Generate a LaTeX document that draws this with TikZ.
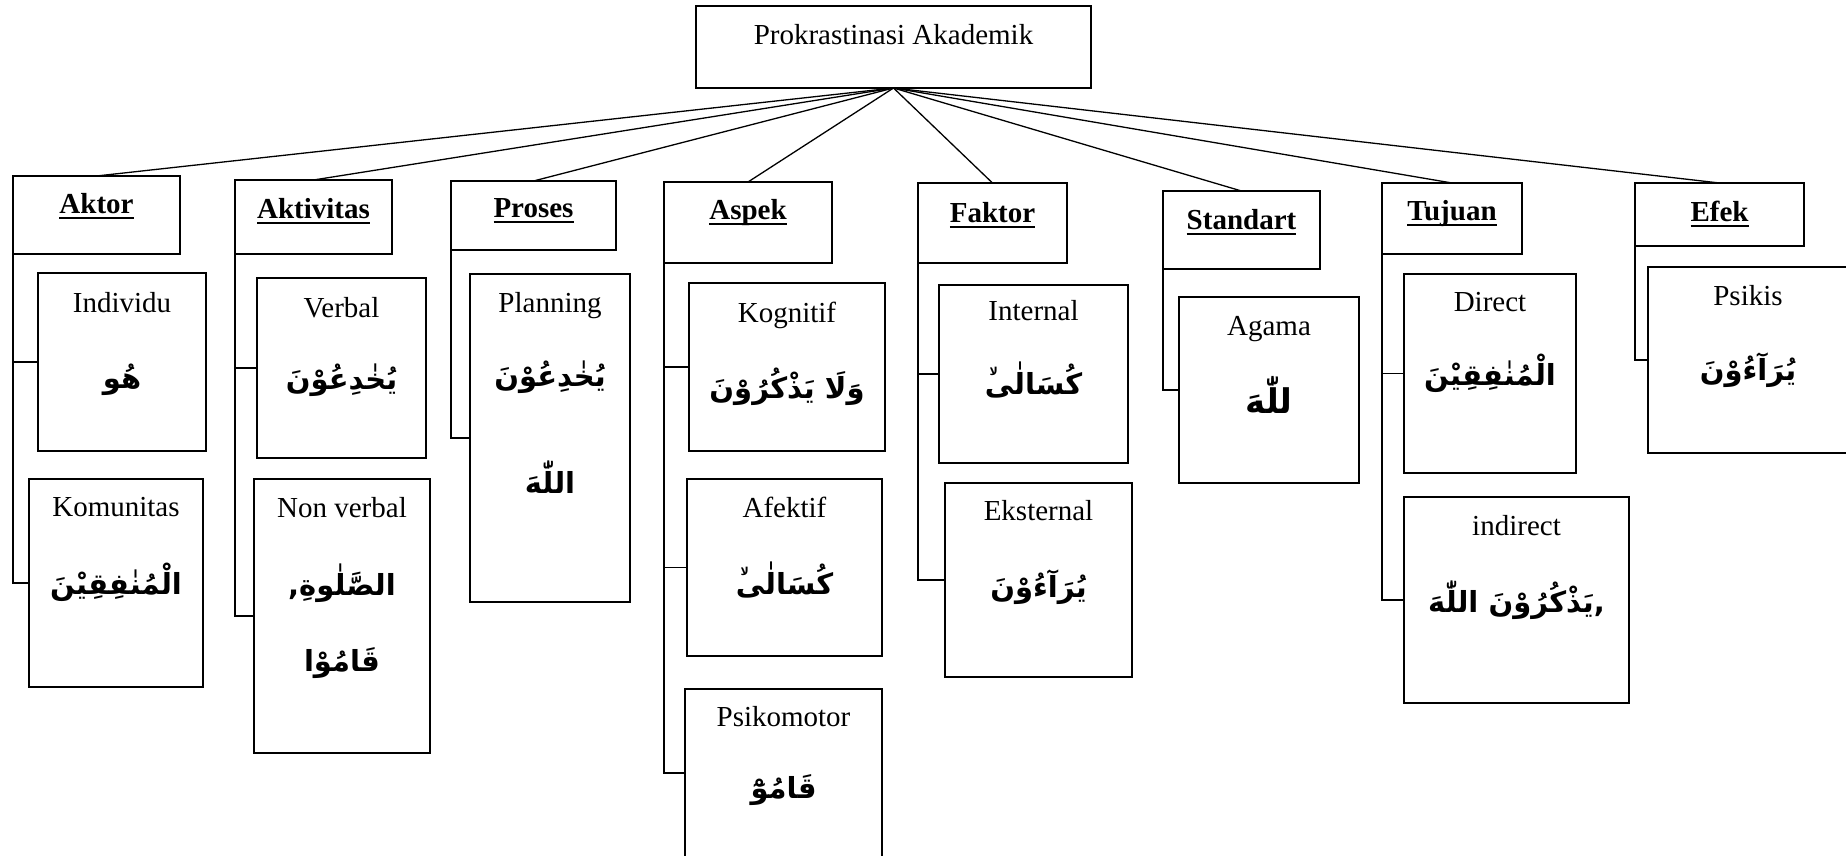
\documentclass[tikz,border=0pt]{standalone}
\usepackage{fontspec}
\setmainfont{Liberation Serif}
\newfontfamily\arabicfont[Script=Arabic]{DejaVu Sans}
\TeXXeTstate=1
\newcommand\hdrul[1]{\setbox0\hbox{#1}\rlap{\rule[-6pt]{\wd0}{2pt}}\box0}
\newcommand\smlamalif{\kern-13pt\raisebox{19pt}{\fontsize{11}{11}\selectfont لا}\kern5pt}
\tikzset{
  box/.style={draw, line width=1.3pt, rectangle, inner sep=0pt, outer sep=0pt},
  lbl/.style={anchor=base, inner sep=0pt, font=\fontsize{29}{34}\selectfont},
  hdr/.style={anchor=base, inner sep=0pt, font=\fontsize{29}{34}\selectfont\bfseries},
  ar/.style={inner sep=0pt, font=\arabicfont\bfseries\fontsize{29}{34}\selectfont},
  conn/.style={line width=1.3pt}
}
\begin{document}
\begin{tikzpicture}[x=1pt,y=-1pt]
\useasboundingbox (0,0) rectangle (1846,856);
\fill[white] (0,0) rectangle (1846,856);
\clip (0,0) rectangle (1846,856);
% root
\node[box, minimum width=395pt, minimum height=82pt] (root) at (893.5,47) {};
\node[lbl] (rootL) at (893.5,45) {Prokrastinasi Akademik};
% categories
\node[box, minimum width=167pt, minimum height=78pt] (aktor) at (96.5,215) {};
\node[hdr] (aktorL) at (96.5,213) {\hdrul{Aktor}};
\node[box, minimum width=157pt, minimum height=74pt] (aktiv) at (313.5,217) {};
\node[hdr] (aktivL) at (313.5,218) {\hdrul{Aktivitas}};
\node[box, minimum width=165pt, minimum height=69pt] (proses) at (533.5,215.5) {};
\node[hdr] (prosesL) at (533.5,217) {\hdrul{Proses}};
\node[box, minimum width=168pt, minimum height=81pt] (aspek) at (748,222.5) {};
\node[hdr] (aspekL) at (748,219) {\hdrul{Aspek}};
\node[box, minimum width=149pt, minimum height=80pt] (faktor) at (992.5,223) {};
\node[hdr] (faktorL) at (992.5,222) {\hdrul{Faktor}};
\node[box, minimum width=157pt, minimum height=78pt] (standart) at (1241.5,230) {};
\node[hdr] (standartL) at (1241.5,229) {\hdrul{Standart}};
\node[box, minimum width=140pt, minimum height=71pt] (tujuan) at (1452,218.5) {};
\node[hdr] (tujuanL) at (1452,220) {\hdrul{Tujuan}};
\node[box, minimum width=169pt, minimum height=63pt] (efek) at (1719.5,214.5) {};
\node[hdr] (efekL) at (1719.5,221) {\hdrul{Efek}};
% root connectors
\foreach \c in {aktor,aktiv,proses,aspek,faktor,standart,tujuan,efek}
  \draw[conn] (root.south) -- (\c.north);
% Aktor children
\node[box, minimum width=168pt, minimum height=178pt] (ind) at (122,362) {};
\node[lbl] (indL) at (122,312) {Individu};
\node[ar] (indA) at (122,380) {\beginR هُو\endR};
\node[box, minimum width=174pt, minimum height=208pt] (kom) at (116,583) {};
\node[lbl] (komL) at (116,516) {Komunitas};
\node[ar] (komA) at (116,582) {\beginR الْمُنٰفِقِيْنَ\endR};
\draw[conn] (aktor.south west) |- (ind.west);
\draw[conn] (aktor.south west) |- (kom.west);
% Aktivitas children
\node[box, minimum width=169pt, minimum height=180pt] (verb) at (341.5,368) {};
\node[lbl] (verbL) at (341.5,317) {Verbal};
\node[ar] (verbA) at (341.5,380) {\beginR يُخٰدِعُوْنَ\endR};
\node[box, minimum width=176pt, minimum height=274pt] (nverb) at (342,616) {};
\node[lbl] (nverbL) at (342,517) {Non verbal};
\node[ar] (nverbA) at (342,583) {\beginR الصَّلٰوةِ,\endR};
\node[ar] (nverbB) at (342,663) {\beginR قَامُوْا\endR};
\draw[conn] (aktiv.south west) |- (verb.west);
\draw[conn] (aktiv.south west) |- (nverb.west);
% Proses children
\node[box, minimum width=160pt, minimum height=328pt] (plan) at (550,438) {};
\node[lbl] (planL) at (550,312) {Planning};
\node[ar] (planA) at (550,377) {\beginR يُخٰدِعُوْنَ\endR};
\node[ar] (planB) at (550,477) {\beginR اللّٰهَ\endR};
\draw[conn] (proses.south west) |- (plan.west);
% Aspek children
\node[box, minimum width=196pt, minimum height=168pt] (kog) at (787,367) {};
\node[lbl] (kogL) at (787,322) {Kognitif};
\node[ar] (kogA) at (787,387) {\beginR وَلَا يَذْكُرُوْنَ\endR};
\node[box, minimum width=195pt, minimum height=177pt] (afe) at (784.5,567.5) {};
\node[lbl] (afeL) at (784.5,517) {Afektif};
\node[ar] (afeA) at (784.5,580) {\beginR كُسَالٰى\smlamalif\endR};
\node[box, minimum width=197pt, minimum height=168pt] (psi) at (783.5,773) {};
\node[lbl] (psiL) at (783.5,726) {Psikomotor};
\node[ar] (psiA) at (783.5,790) {\beginR قَامُوْٓ\endR};
\draw[conn] (aspek.south west) |- (kog.west);
\draw[conn] (aspek.south west) |- (afe.west);
\draw[conn] (aspek.south west) |- (psi.west);
% Faktor children
\node[box, minimum width=189pt, minimum height=178pt] (inter) at (1033.5,374) {};
\node[lbl] (interL) at (1033.5,320) {Internal};
\node[ar] (interA) at (1033.5,380) {\beginR كُسَالٰى\smlamalif\endR};
\node[box, minimum width=187pt, minimum height=194pt] (ekst) at (1038.5,580) {};
\node[lbl] (ekstL) at (1038.5,520) {Eksternal};
\node[ar] (ekstA) at (1038.5,587) {\beginR يُرَآءُوْنَ\endR};
\draw[conn] (faktor.south west) |- (inter.west);
\draw[conn] (faktor.south west) |- (ekst.west);
% Standart child
\node[box, minimum width=180pt, minimum height=186pt] (aga) at (1269,390) {};
\node[lbl] (agaL) at (1269,335) {Agama};
\node[ar, font=\arabicfont\bfseries\fontsize{34}{40}\selectfont] (agaA) at (1269,395) {\beginR للّٰهَ\endR};
\draw[conn] (standart.south west) |- (aga.west);
% Tujuan children
\node[box, minimum width=172pt, minimum height=199pt] (dir) at (1490,373.5) {};
\node[lbl] (dirL) at (1490,311) {Direct};
\node[ar] (dirA) at (1490,373) {\beginR الْمُنٰفِقِيْنَ\endR};
\node[box, minimum width=225pt, minimum height=206pt] (indir) at (1516.5,600) {};
\node[lbl] (indirL) at (1516.5,535) {indirect};
\node[ar] (indirA) at (1516.5,600) {\beginR ,يَذْكُرُوْنَ اللّٰهَ\endR};
\draw[conn] (tujuan.south west) |- (dir.west);
\draw[conn] (tujuan.south west) |- (indir.west);
% Efek child
\node[box, minimum width=200pt, minimum height=186pt] (psik) at (1748,360) {};
\node[lbl] (psikL) at (1748,305) {Psikis};
\node[ar] (psikA) at (1748,370) {\beginR يُرَآءُوْنَ\endR};
\draw[conn] (efek.south west) |- (psik.west);
\end{tikzpicture}
\end{document}
